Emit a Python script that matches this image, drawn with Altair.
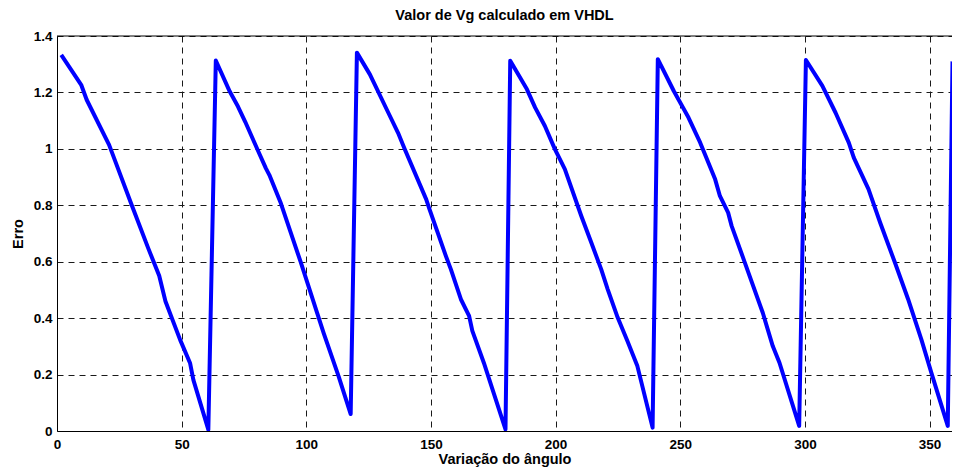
import altair as alt
import pandas as pd

angle = [1.7, 9.7, 11.9, 20.9, 22.9, 30.0, 36.5, 41.0, 43.5, 49.4, 53.4, 54.7, 60.7,
         63.7, 69.3, 72.6, 75.5, 80.5, 83.8, 85.2, 89.8, 97.7, 104.4, 107.0, 113.0, 117.8,
         120.3, 125.5, 132.9, 136.8, 139.5, 148.1, 149.4, 156.0, 158.0, 162.0, 165.3, 166.6, 171.2, 179.9,
         181.8, 188.5, 191.8, 195.7, 199.7, 203.7, 210.3, 214.3, 218.3, 220.9, 224.9, 228.8, 232.8, 238.9,
         241.0, 247.4, 253.3, 258.0, 264.0, 265.9, 269.2, 270.6, 275.9, 283.1, 287.1, 289.8, 297.7,
         300.4, 307.0, 312.3, 317.6, 319.6, 325.5, 330.2, 336.1, 341.4, 346.7, 350.7, 357.3, 359.2]
erro = [1.333, 1.227, 1.174, 1.014, 0.967, 0.80, 0.65, 0.55, 0.46, 0.323, 0.240, 0.181, 0.005,
        1.313, 1.203, 1.150, 1.096, 0.996, 0.931, 0.907, 0.807, 0.600, 0.417, 0.346, 0.193, 0.060,
        1.341, 1.264, 1.128, 1.057, 0.999, 0.821, 0.786, 0.620, 0.573, 0.467, 0.408, 0.355, 0.242, 0.006,
        1.312, 1.211, 1.146, 1.081, 0.999, 0.928, 0.762, 0.668, 0.573, 0.502, 0.402, 0.319, 0.230, 0.012,
        1.318, 1.205, 1.111, 1.022, 0.892, 0.833, 0.774, 0.727, 0.597, 0.419, 0.301, 0.242, 0.018,
        1.315, 1.223, 1.128, 1.022, 0.969, 0.857, 0.738, 0.597, 0.467, 0.325, 0.207, 0.018, 1.31]

x_ticks = [0, 50, 100, 150, 200, 250, 300, 350]
y_ticks = [0, 0.2, 0.4, 0.6, 0.8, 1.0, 1.2, 1.4]
x_visible = [0, 359.0]   # the reference image is cropped just before x = 360
y_range = [0, 1.4]

title_text = "Valor de Vg calculado em VHDL"
x_title = "Variação do ângulo"
y_title = "Erro"

df = pd.DataFrame({"angle": angle, "erro": erro})

FONT = "Liberation Sans"

common_axis = dict(
    grid=True,
    gridDash=[6, 5],
    gridColor="#1a1a1a",
    gridOpacity=1,
    gridWidth=1,
    domain=True,
    domainColor="#000000",
    domainWidth=1,
    ticks=False,
    labelFont=FONT,
    labelFontSize=13.5,
    labelFontWeight="bold",
    labelColor="#000000",
    labelFlush=False,
    labelOverlap=False,
    labelBound=False,
    titleFont=FONT,
    titleFontSize=14.5,
    titleFontWeight="bold",
    titleColor="#000000",
)

line = alt.Chart(df).mark_line(
    color="#0000ff", strokeWidth=4, clip=True, strokeJoin="round", strokeCap="butt"
).encode(
    x=alt.X(
        "angle:Q",
        scale=alt.Scale(domain=x_visible, nice=False, zero=False),
        axis=alt.Axis(
            values=x_ticks,
            title=x_title,
            labelPadding=6,
            titleY=32,
            titleBaseline="alphabetic",
            **common_axis,
        ),
    ),
    y=alt.Y(
        "erro:Q",
        scale=alt.Scale(domain=y_range, nice=False),
        axis=alt.Axis(
            values=y_ticks,
            format="~g",
            title=y_title,
            labelPadding=5,
            titleX=-35,
            titleBaseline="alphabetic",
            **common_axis,
        ),
    ),
)

top_border = alt.Chart(pd.DataFrame({"top": [y_range[1]]})).mark_rule(
    color="#000000", strokeWidth=1
).encode(y=alt.Y("top:Q"))

chart = alt.layer(top_border, line).properties(
    width=895,
    height=395,
    title=alt.TitleParams(
        text=title_text,
        font=FONT,
        fontSize=14.5,
        fontWeight="bold",
        color="#000000",
        anchor="middle",
        frame="group",
        offset=6,
    ),
    autosize=alt.AutoSizeParams(type="none"),
    padding={"left": 49, "top": 28, "right": 0, "bottom": 37},
    background="#ffffff",
).configure_view(
    strokeWidth=0
)

chart.save("out.html", embed_options={"renderer": "svg", "actions": False})
